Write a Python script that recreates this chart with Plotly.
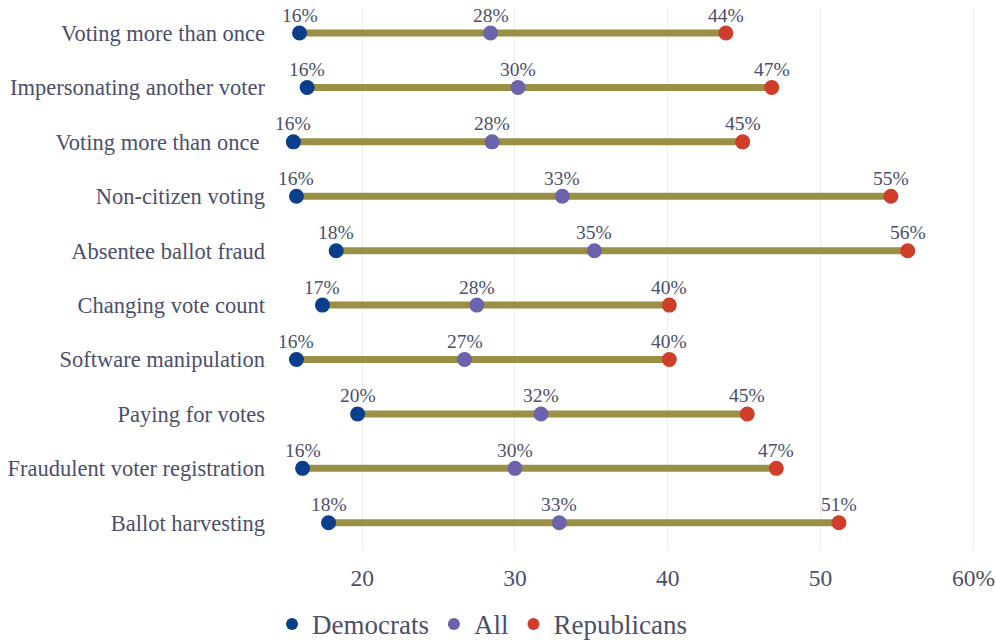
import plotly.graph_objects as go

categories = [
    "Voting more than once",
    "Impersonating another voter",
    "Voting more than once ",
    "Non-citizen voting",
    "Absentee ballot fraud",
    "Changing vote count",
    "Software manipulation",
    "Paying for votes",
    "Fraudulent voter registration",
    "Ballot harvesting",
]
democrats = [15.9, 16.4, 15.5, 15.7, 18.3, 17.4, 15.7, 19.7, 16.1, 17.8]
all_voters = [28.4, 30.2, 28.5, 33.1, 35.2, 27.5, 26.7, 31.7, 30.0, 32.9]
republicans = [43.8, 46.8, 44.9, 54.6, 55.7, 40.1, 40.1, 45.2, 47.1, 51.2]
tick_vals = [20, 30, 40, 50, 60]
tick_text = ["20", "30", "40", "50", "60%"]

FONT = "Liberation Serif"
TXT = "#4b4f6b"
C_D, C_A, C_R, C_L = "#0b3f8c", "#6b63ab", "#cf3d2b", "#9a8f45"

fig = go.Figure()

lx, ly = [], []
for c, d, r in zip(categories, democrats, republicans):
    lx += [d, r, None]
    ly += [c, c, None]
fig.add_trace(go.Scatter(x=lx, y=ly, mode="lines", line=dict(color=C_L, width=7),
                         showlegend=False, hoverinfo="skip"))

for name, vals, col in [("Democrats", democrats, C_D), ("All", all_voters, C_A),
                        ("Republicans", republicans, C_R)]:
    fig.add_trace(go.Scatter(
        x=vals, y=categories, mode="markers", name=name,
        marker=dict(color=col, size=15), cliponaxis=False))
    for c, v in zip(categories, vals):
        fig.add_annotation(x=v, y=c, text=f"{round(v)}%", showarrow=False,
                           yshift=18, font=dict(family=FONT, size=19.5, color=TXT))

fig.update_layout(
    width=996, height=640,
    margin=dict(l=272, r=16, t=8, b=90, autoexpand=False),
    plot_bgcolor="white", paper_bgcolor="white",
    font=dict(family=FONT, size=22.5, color=TXT),
    xaxis=dict(range=[14.1, 60.43], tickvals=tick_vals, ticktext=tick_text,
               showgrid=True, gridcolor="#ececec", gridwidth=1, zeroline=False,
               showline=False, tickfont=dict(size=23.5), ticks="",
               ticklabelstandoff=11, automargin=False),
    yaxis=dict(categoryorder="array", categoryarray=categories,
               autorange=False, range=[9.5, -0.46], showgrid=False, zeroline=False,
               ticks="", ticklabelstandoff=6, automargin=False),
    legend=dict(orientation="h", x=0.0, xanchor="left", y=-0.092, yanchor="top",
                font=dict(size=27), itemsizing="constant"),
)
fig.write_html(
    "out.html",
    config={"displayModeBar": False},
    post_script="document.body.style.margin='0';document.body.style.overflow='hidden';",
)
